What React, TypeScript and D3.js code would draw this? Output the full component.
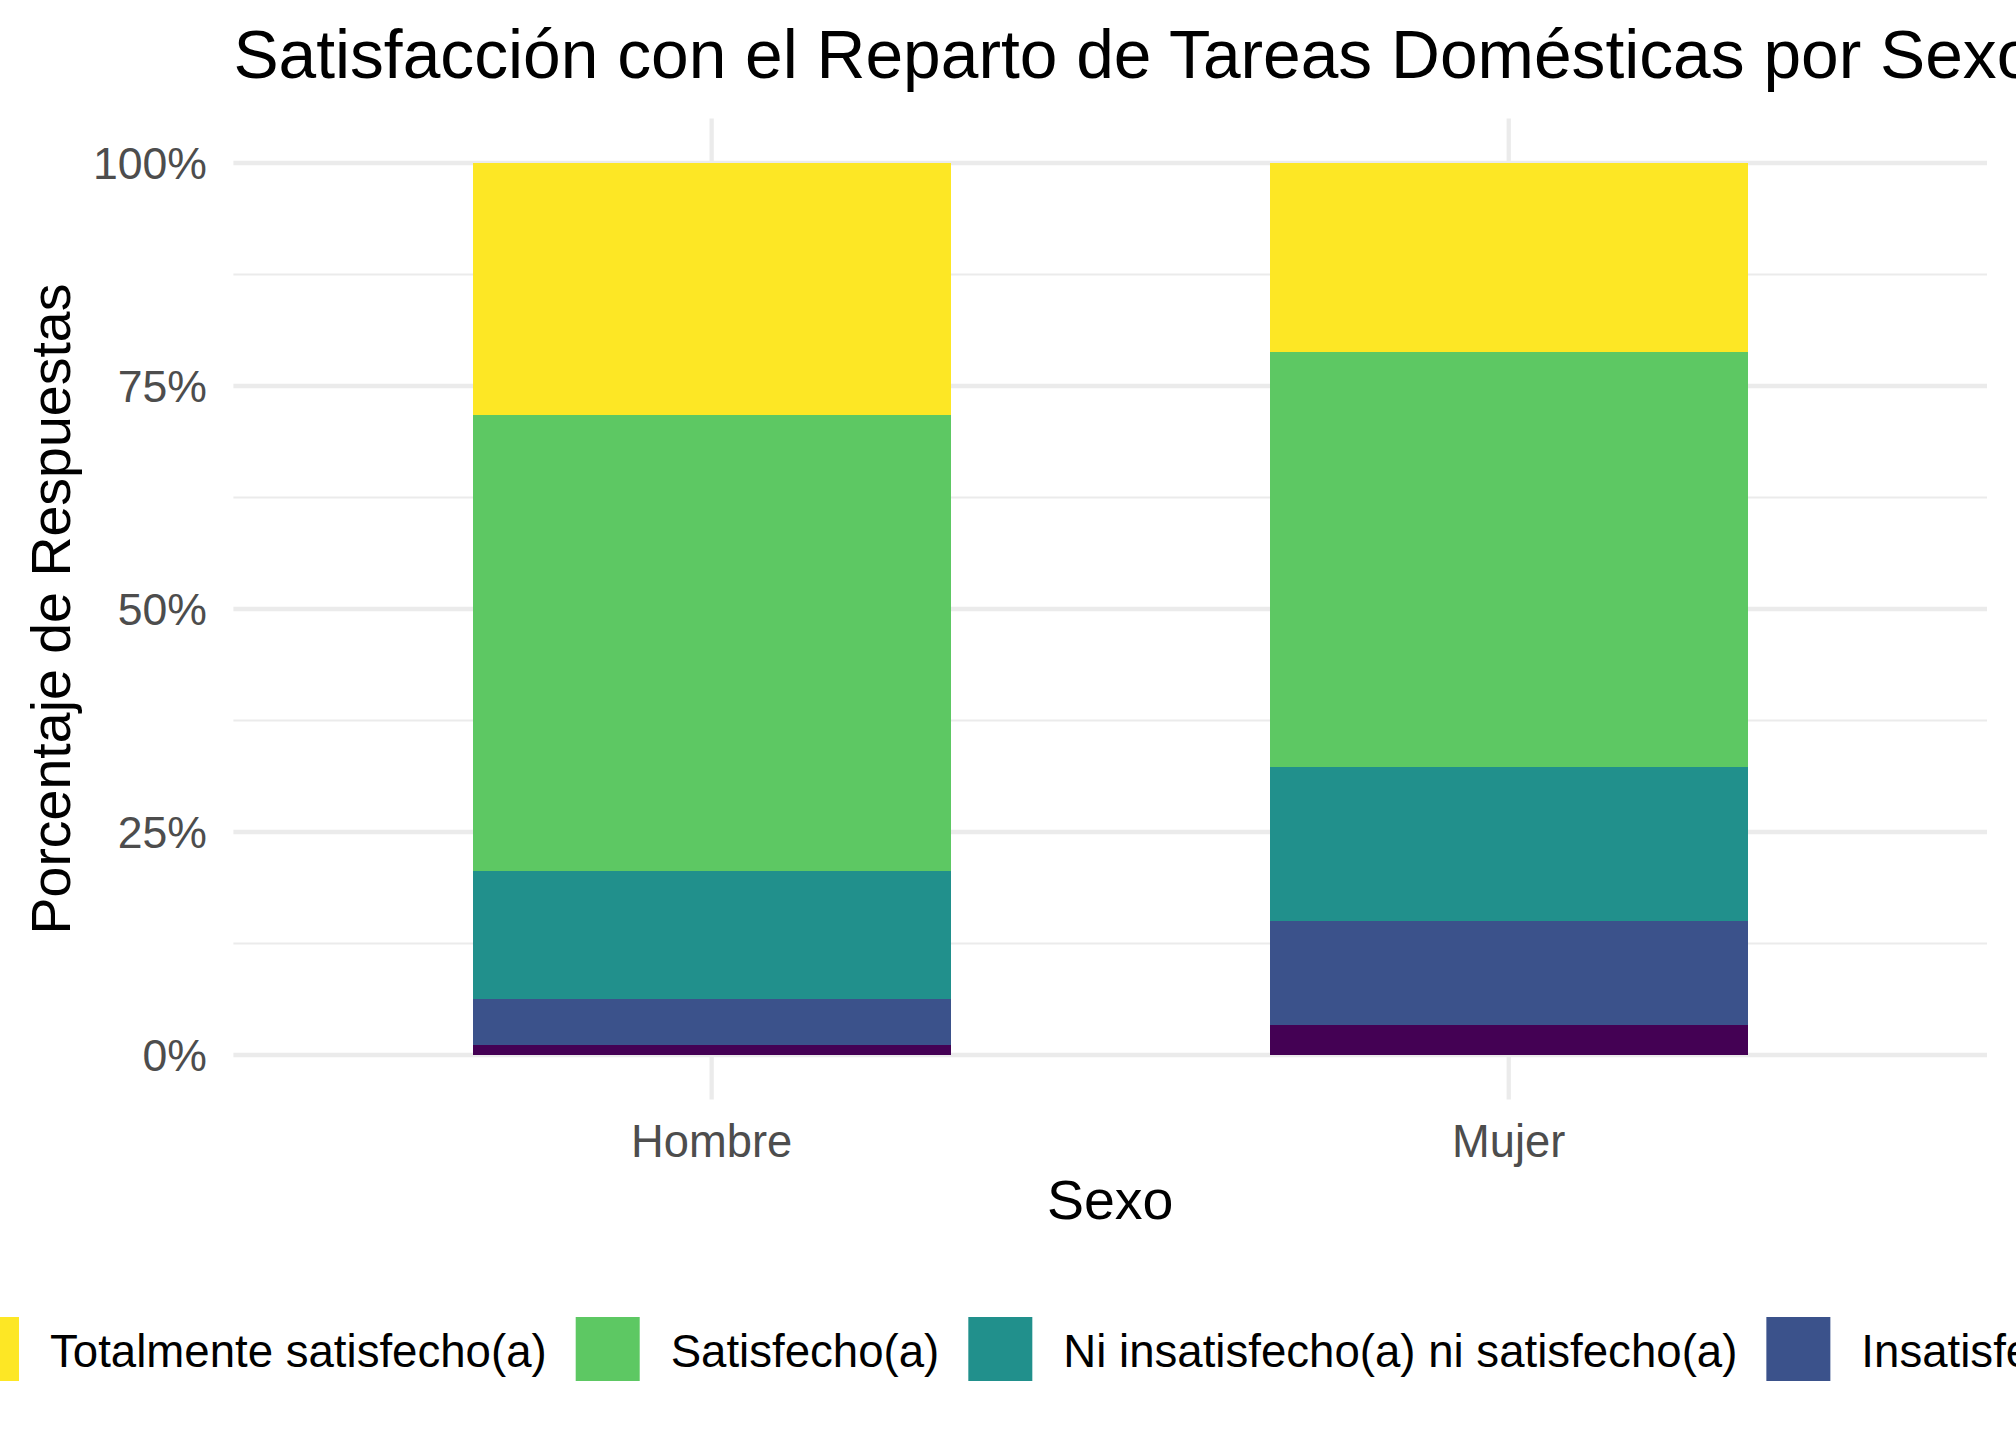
import React from "react";
import * as d3 from "d3";

const categories = ["Hombre", "Mujer"];
// stacking order bottom -> top
const levels = [
  "Totalmente insatisfecho(a)",
  "Insatisfecho(a)",
  "Ni insatisfecho(a) ni satisfecho(a)",
  "Satisfecho(a)",
  "Totalmente satisfecho(a)",
];
const colors = ["#440154", "#3B528B", "#21908C", "#5DC863", "#FDE725"];
const hombreValues = [1.07, 5.19, 14.34, 51.15, 28.25];
const mujerValues = [3.32, 11.7, 17.27, 46.51, 21.2];
const yTicks = [0, 0.25, 0.5, 0.75, 1];
const yMinorTicks = [0.125, 0.375, 0.625, 0.875];
// legend order (reverse of stacking)
const legendOrder = [4, 3, 2, 1, 0];

const W = 2016;
const H = 1440;
const FONT = '"Liberation Sans", Arial, Helvetica, sans-serif';

const measureCtx =
  typeof document !== "undefined"
    ? document.createElement("canvas").getContext("2d")
    : null;
function textWidth(t: string, size: number) {
  if (!measureCtx) return t.length * size * 0.5;
  measureCtx.font = `${size}px ${FONT}`;
  return measureCtx.measureText(t).width;
}

export default function App() {
  const panelLeft = 233.4;
  const panelRight = 1987;
  const y = d3.scaleLinear().domain([0, 1]).range([1055, 163]);
  const panelTop = y(1.05);
  const panelBottom = y(-0.05);
  const x = d3
    .scalePoint<string>()
    .domain(categories)
    .range([panelLeft, panelRight])
    .padding(0.6);
  const barW = x.step() * 0.6;

  const rows = categories.map((c, i) => {
    const vals = i === 0 ? hombreValues : mujerValues;
    const tot = d3.sum(vals);
    const r: any = { cat: c };
    levels.forEach((l, j) => (r[l] = vals[j] / tot));
    return r;
  });
  const series = d3.stack().keys(levels)(rows);

  const textSize = 45.3;
  const legendSize = 45.6;
  const tickSize = 44.6;
  const titleSize = 67.7;
  const axisTitleSize = 55.5;

  // legend layout
  const keySize = 64;
  const keyTextGap = 31;
  const itemGap = 29;
  let lx = -45;
  const legendItems = legendOrder.map((idx) => {
    const label = levels[idx];
    const item = { idx, label, x: lx, tx: lx + keySize + keyTextGap };
    lx = item.tx + textWidth(label, legendSize) + itemGap;
    return item;
  });
  const legendTop = 1317;

  return (
    <div style={{ position: "absolute", left: 0, top: 0 }}>
      <svg width={W} height={H} viewBox={`0 0 ${W} ${H}`} style={{ display: "block", background: "#fff" }}>
        <rect x={0} y={0} width={W} height={H} fill="#fff" />
        {/* minor grid */}
        {yMinorTicks.map((t) => (
          <line key={"mn" + t} x1={panelLeft} x2={panelRight} y1={y(t)} y2={y(t)} stroke="#EBEBEB" strokeWidth={2.2} />
        ))}
        {/* major grid */}
        {yTicks.map((t) => (
          <line key={"mj" + t} x1={panelLeft} x2={panelRight} y1={y(t)} y2={y(t)} stroke="#EBEBEB" strokeWidth={4.3} />
        ))}
        {categories.map((c) => (
          <line key={"vx" + c} x1={x(c)!} x2={x(c)!} y1={panelTop} y2={panelBottom} stroke="#EBEBEB" strokeWidth={4.3} />
        ))}
        {/* bars */}
        {series.map((s, si) => (
          <g key={s.key} fill={colors[si]} shapeRendering="crispEdges">
            {s.map((d: any) => (
              <rect
                key={d.data.cat}
                x={x(d.data.cat)! - barW / 2}
                width={barW}
                y={y(d[1])}
                height={y(d[0]) - y(d[1])}
              />
            ))}
          </g>
        ))}
        {/* y tick labels */}
        {yTicks.map((t) => (
          <text
            key={"yl" + t}
            x={207}
            y={y(t) + tickSize * 0.358}
            textAnchor="end"
            fontFamily={FONT}
            fontSize={tickSize}
            fill="#4D4D4D"
          >
            {d3.format(".0%")(t)}
          </text>
        ))}
        {/* x tick labels */}
        {categories.map((c) => (
          <text
            key={"xl" + c}
            x={x(c)!}
            y={1157}
            textAnchor="middle"
            fontFamily={FONT}
            fontSize={textSize}
            fill="#4D4D4D"
          >
            {c}
          </text>
        ))}
        {/* axis titles */}
        <text x={(panelLeft + panelRight) / 2} y={1219} textAnchor="middle" fontFamily={FONT} fontSize={axisTitleSize} fill="#000">
          Sexo
        </text>
        <text
          transform={`translate(70, ${(panelTop + panelBottom) / 2}) rotate(-90)`}
          textAnchor="middle"
          fontFamily={FONT}
          fontSize={axisTitleSize}
          fill="#000"
        >
          Porcentaje de Respuestas
        </text>
        {/* title */}
        <text x={panelLeft} y={78} fontFamily={FONT} fontSize={titleSize} fill="#000">
          Satisfacción con el Reparto de Tareas Domésticas por Sexo
        </text>
        {/* legend */}
        {legendItems.map((it) => (
          <g key={it.label}>
            <rect x={it.x} y={legendTop} width={keySize} height={keySize} fill={colors[it.idx]} />
            <text x={it.tx} y={1367} fontFamily={FONT} fontSize={legendSize} fill="#000">
              {it.label}
            </text>
          </g>
        ))}
      </svg>
    </div>
  );
}
